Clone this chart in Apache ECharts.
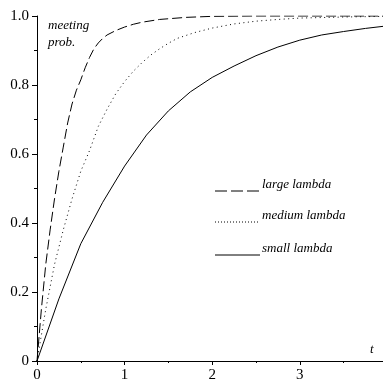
<!DOCTYPE html>
<html>
<head>
<meta charset="utf-8">
<script src="https://cdn.jsdelivr.net/npm/echarts@6/dist/echarts.min.js"></script>
<style>
  html, body { margin: 0; padding: 0; background: #fff; }
  #chart { width: 383px; height: 383px; }
</style>
</head>
<body>
<div id="chart"></div>
<script>
// values: t and meeting probability for each lambda
var largeT = [0, 0.05, 0.1, 0.15, 0.2, 0.25, 0.3, 0.35, 0.4, 0.45, 0.5, 0.55, 0.6, 0.65, 0.7, 0.75, 0.8, 0.9, 1.0, 1.1, 1.2, 1.4, 1.7, 2.0, 2.5, 3.0, 3.5, 3.95];
var largeP = [0, 0.15, 0.28, 0.38, 0.47, 0.55, 0.62, 0.69, 0.745, 0.785, 0.815, 0.85, 0.88, 0.905, 0.922, 0.935, 0.945, 0.958, 0.968, 0.976, 0.982, 0.99, 0.996, 0.999, 1.0, 1.0, 1.0, 1.0];

var mediumT = [0, 0.1, 0.2, 0.3, 0.4, 0.5, 0.6, 0.7, 0.8, 0.9, 1.0, 1.1, 1.2, 1.3, 1.4, 1.5, 1.6, 1.8, 2.0, 2.25, 2.5, 2.75, 3.0, 3.5, 3.95];
var mediumP = [0, 0.15, 0.28, 0.38, 0.47, 0.55, 0.61, 0.68, 0.73, 0.775, 0.81, 0.84, 0.865, 0.887, 0.905, 0.921, 0.935, 0.952, 0.965, 0.977, 0.985, 0.99, 0.994, 0.997, 0.999];

var smallT = [0, 0.25, 0.5, 0.75, 1.0, 1.25, 1.5, 1.75, 2.0, 2.25, 2.5, 2.75, 3.0, 3.25, 3.5, 3.75, 3.95];
var smallP = [0, 0.18, 0.34, 0.46, 0.565, 0.655, 0.725, 0.78, 0.822, 0.855, 0.885, 0.91, 0.93, 0.945, 0.955, 0.964, 0.97];

var legendNames = ['large lambda', 'medium lambda', 'small lambda'];

function pairs(xs, ys) {
    return xs.map(function (x, i) { return [x, ys[i]]; });
}

var serif = '"Liberation Serif", "DejaVu Serif", serif';
var myChart = echarts.init(document.getElementById('chart'));

function curve(name, data, dash) {
    return {
        name: name,
        type: 'line',
        data: data,
        showSymbol: false,
        smooth: false,
        clip: true,
        lineStyle: { color: '#000', width: 1, type: dash },
        animation: false
    };
}

function legendRow(y, dash, text) {
    return [
        {
            type: 'line',
            shape: { x1: 215, y1: y + 6, x2: 260, y2: y + 6 },
            style: { stroke: '#000', lineWidth: 1, lineDash: dash }
        },
        {
            type: 'text',
            left: 262, top: y - 7,
            style: { text: text, font: 'italic 13px ' + serif, fill: '#000' }
        }
    ];
}

var option = {
    backgroundColor: '#fff',
    animation: false,
    grid: { left: 37, right: 0, top: 16, bottom: 17 },
    xAxis: {
        type: 'value',
        min: 0,
        max: 3.95,
        interval: 1,
        axisLine: { lineStyle: { color: '#000', width: 1 } },
        axisTick: { show: true, length: 4, lineStyle: { color: '#000' } },
        minorTick: { show: true, splitNumber: 2, length: 2, lineStyle: { color: '#000' } },
        splitLine: { show: false },
        axisLabel: {
            color: '#000', fontFamily: serif, fontSize: 15, margin: 7,
            showMaxLabel: false
        }
    },
    yAxis: {
        type: 'value',
        min: 0,
        max: 1,
        interval: 0.2,
        axisLine: { show: true, lineStyle: { color: '#000', width: 1 } },
        axisTick: { show: true, length: 5, lineStyle: { color: '#000' } },
        minorTick: { show: true, splitNumber: 2, length: 3, lineStyle: { color: '#000' } },
        splitLine: { show: false },
        axisLabel: {
            color: '#000', fontFamily: serif, fontSize: 15, margin: 8,
            formatter: function (v) { return v === 0 ? '0' : v.toFixed(1); }
        }
    },
    graphic: [
        {
            type: 'text', left: 48, top: 17,
            style: { text: 'meeting\nprob.', font: 'italic 13px ' + serif, lineHeight: 17, fill: '#000' }
        },
        {
            type: 'text', left: 370, top: 343,
            style: { text: 't', font: 'italic 13px ' + serif, fill: '#000' }
        }
    ]
        .concat(legendRow(185, [12, 4], legendNames[0]))
        .concat(legendRow(216, [1, 2], legendNames[1]))
        .concat(legendRow(249, null, legendNames[2])),
    series: [
        curve(legendNames[0], pairs(largeT, largeP), [10, 4]),
        curve(legendNames[1], pairs(mediumT, mediumP), [1, 3.5]),
        curve(legendNames[2], pairs(smallT, smallP), 'solid')
    ]
};
myChart.setOption(option);
</script>
</body>
</html>
